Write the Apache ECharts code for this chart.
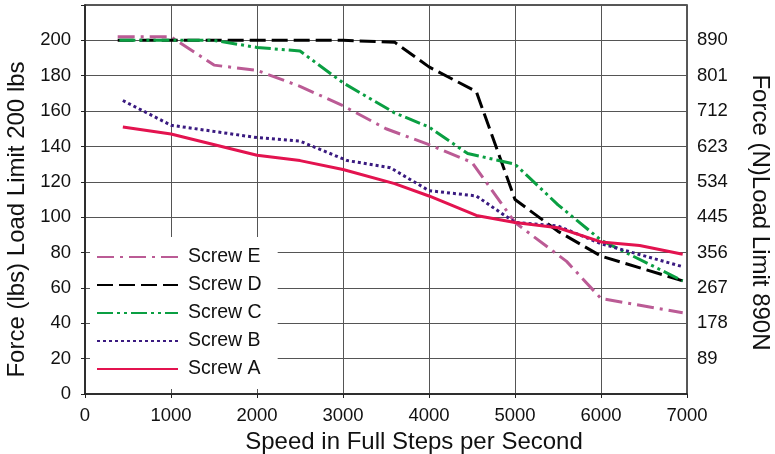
<!DOCTYPE html>
<html>
<head>
<meta charset="utf-8">
<script src="https://cdn.jsdelivr.net/npm/echarts@6/dist/echarts.min.js"></script>
<style>
  html, body { margin: 0; padding: 0; background: #fff; }
  #chart { width: 775px; height: 454px; }
</style>
</head>
<body>
<div id="chart"></div>
<script>
// speed (full steps / s), force (lbs)
var screwE = [[380, 202], [1000, 202], [1500, 186], [2000, 183], [2500, 174], [3000, 163], [3500, 150], [4000, 141], [4500, 131], [5000, 97], [5600, 75], [6000, 54], [6950, 46]];
var screwD = [[380, 200], [1000, 200], [2000, 200], [3000, 200], [3600, 199], [4000, 185], [4550, 171], [5000, 110], [5500, 92], [6000, 78], [6950, 64]];
var screwC = [[400, 200], [1500, 200], [2000, 196], [2500, 194], [3000, 176], [3600, 159], [4000, 151], [4450, 136], [5000, 130], [5500, 107], [6000, 87], [6950, 64]];
var screwB = [[440, 166], [1000, 152], [2000, 145], [2500, 143], [3050, 132], [3550, 128], [4000, 115], [4550, 112], [5000, 97], [5500, 95], [6000, 85], [6950, 72]];
var screwA = [[440, 151], [1000, 147], [2000, 135], [2500, 132], [3000, 127], [3600, 119], [4000, 112], [4550, 101], [5000, 97], [5500, 94], [6000, 86], [6450, 84], [6950, 79]];

var xLabels = ['0', '1000', '2000', '3000', '4000', '5000', '6000', '7000'];
var leftLabels = ['0', '20', '40', '60', '80', '100', '120', '140', '160', '180', '200', ''];
var rightLabels = ['', '89', '178', '267', '356', '445', '534', '623', '712', '801', '890', ''];

var font = 'Liberation Sans, Arial, sans-serif';
var chart = echarts.init(document.getElementById('chart'));

function lineSeries(name, data, color, dash) {
  return {
    name: name,
    type: 'line',
    data: data,
    symbol: 'none',
    lineStyle: { color: color, width: 3, type: dash },
    itemStyle: { color: color }
  };
}

var option = {
  animation: false,
  backgroundColor: '#fff',
  textStyle: { fontFamily: font },
  grid: {
    left: 85, right: 88, top: 5, bottom: 60,
    outerBoundsMode: 'none',
    containLabel: false,
    show: true, borderColor: '#222', borderWidth: 1.5
  },
  legend: {
    orient: 'vertical',
    left: 90,
    top: 237,
    padding: [10, 16, 10, 6],
    backgroundColor: '#fff',
    itemWidth: 81,
    itemHeight: 14,
    itemGap: 8,
    itemStyle: { opacity: 0 },
    data: ['Screw E', 'Screw D', 'Screw C', 'Screw B', 'Screw A'],
    textStyle: { fontSize: 19.5, color: '#111', fontFamily: font, padding: [0, 0, 0, 5] }
  },
  xAxis: {
    type: 'value',
    min: 0, max: 7000, interval: 1000,
    name: 'Speed in Full Steps per Second',
    nameLocation: 'middle',
    nameGap: 25,
    nameTextStyle: { fontSize: 24, color: '#111', padding: [0, 0, 0, 56] },
    axisLine: { lineStyle: { color: '#222', width: 1.5 } },
    axisTick: { show: true, length: 4, lineStyle: { color: '#222' } },
    axisLabel: {
      fontSize: 18.5, color: '#111', margin: 12,
      formatter: function (v, i) { return xLabels[i]; }
    },
    splitLine: { lineStyle: { color: '#555', width: 1 } }
  },
  yAxis: [{
    type: 'value',
    min: 0, max: 220, interval: 20,
    name: 'Force (lbs) Load Limit 200 lbs',
    nameLocation: 'middle',
    nameRotate: 90,
    nameGap: 51,
    nameTextStyle: { fontSize: 24, color: '#111', padding: [0, 40, 0, 0] },
    axisLine: { show: true, lineStyle: { color: '#222', width: 1.5 } },
    axisTick: { show: true, length: 4, lineStyle: { color: '#222' } },
    axisLabel: {
      fontSize: 18.5, color: '#111', margin: 14,
      formatter: function (v, i) { return leftLabels[i]; }
    },
    splitLine: { lineStyle: { color: '#555', width: 1 } }
  }, {
    type: 'value',
    position: 'right',
    min: 0, max: 220, interval: 20,
    name: 'Force (N)Load Limit 890N',
    nameLocation: 'middle',
    nameRotate: -90,
    nameGap: 61,
    nameTextStyle: { fontSize: 24, color: '#111', padding: [0, 0, 0, 26] },
    axisLine: { show: false },
    axisTick: { show: false },
    axisLabel: {
      fontSize: 18.5, color: '#111', margin: 10,
      formatter: function (v, i) { return rightLabels[i]; }
    },
    splitLine: { show: false }
  }],
  series: [
    lineSeries('Screw E', screwE, '#bb5b95', [17, 6, 3, 6]),
    lineSeries('Screw D', screwD, '#000000', [16, 6]),
    lineSeries('Screw C', screwC, '#0a9f42', [16, 4, 3, 4, 3, 4]),
    lineSeries('Screw B', screwB, '#3a1a80', [3, 3]),
    lineSeries('Screw A', screwA, '#e3134f', 'solid')
  ]
};

chart.setOption(option);
</script>
</body>
</html>
